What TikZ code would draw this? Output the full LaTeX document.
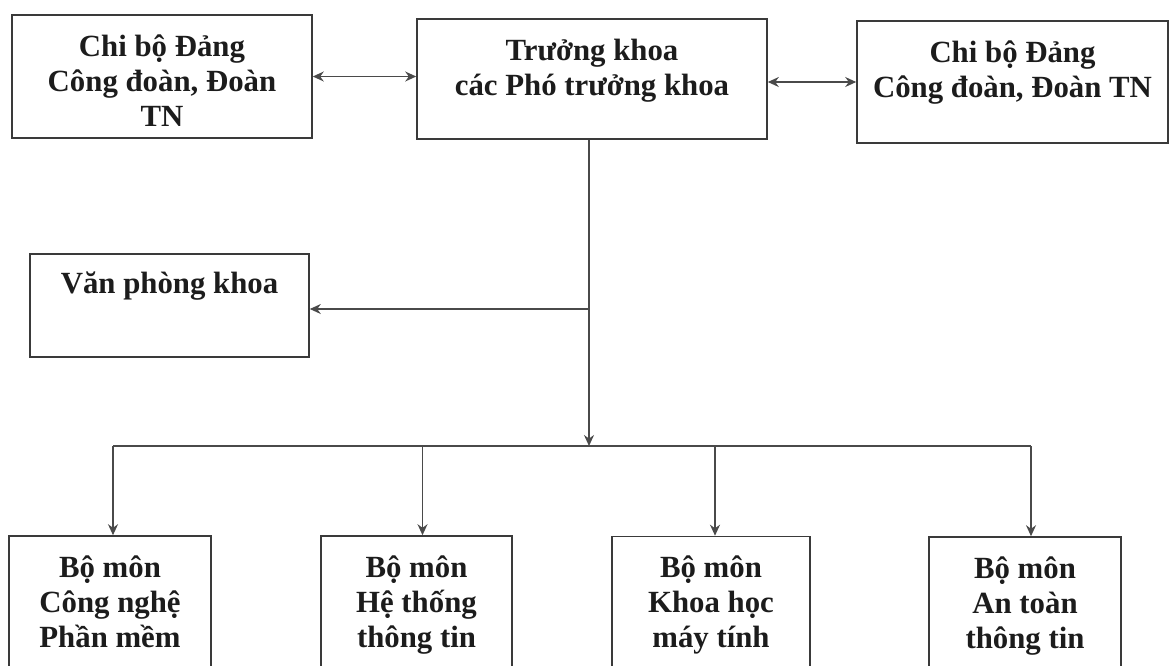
\documentclass[tikz,border=0pt]{standalone}
\usepackage{fontspec}
\setmainfont{Liberation Serif}
\usetikzlibrary{arrows.meta}
\definecolor{boxgray}{HTML}{3A3A3A}
\definecolor{linegray}{HTML}{4A4A4A}
\definecolor{ink}{HTML}{1C1C1C}
\begin{document}
\begin{tikzpicture}[x=0.5pt,y=-0.5pt,
  box/.style={draw=boxgray, line width=0.8pt, inner sep=0pt, rectangle},
  lbl/.style={anchor=north, inner sep=0pt, align=center, text=ink,
    font=\fontsize{15.4}{17.5}\selectfont\bfseries},
  link/.style={draw=linegray, line width=0.7pt},
  tip/.style={-{Stealth[length=5.5pt,width=5pt]}},
  tips/.style={{Stealth[length=5.5pt,width=5pt]}-{Stealth[length=5.5pt,width=5pt]}}]
\useasboundingbox (0,0) rectangle (1170,665);
\clip (0,0) rectangle (1170,665);
\fill[white] (0,0) rectangle (1170,665);

% top row
\node[box, minimum width=150pt, minimum height=61.5pt] (A) at (162,76.5) {};
\node[box, minimum width=175pt, minimum height=60pt] (B) at (592,79) {};
\node[box, minimum width=155.5pt, minimum height=61pt] (C) at (1012.5,82) {};
% office
\node[box, minimum width=139.5pt, minimum height=51.5pt] (V) at (169.5,305.5) {};
% departments
\node[box, minimum width=101pt, minimum height=82pt] (D1) at (110,618) {};
\node[box, minimum width=95.5pt, minimum height=82pt] (D2) at (416.5,618) {};
\node[box, minimum width=99pt, minimum height=82pt] (D3) at (711,618.5) {};
\node[box, minimum width=96pt, minimum height=82pt] (D4) at (1025,619) {};

% box texts
\node[lbl, yshift=-4.75pt] (tA) at (A.north) {\rule{0pt}{16pt}Chi bộ Đảng\\Công đoàn, Đoàn\\TN};
\node[lbl, yshift=-4.75pt] (tB) at (B.north) {\rule{0pt}{16pt}Trưởng khoa\\các Phó trưởng khoa};
\node[lbl, yshift=-4.75pt] (tC) at (C.north) {\rule{0pt}{16pt}Chi bộ Đảng\\Công đoàn, Đoàn TN};
\node[lbl, yshift=-3.75pt] (tV) at (V.north) {\rule{0pt}{16pt}Văn phòng khoa};
\node[lbl, yshift=-4.75pt] (t1) at (D1.north) {\rule{0pt}{16pt}Bộ môn\\Công nghệ\\Phần mềm};
\node[lbl, yshift=-4.75pt] (t2) at (D2.north) {\rule{0pt}{16pt}Bộ môn\\Hệ thống\\thông tin};
\node[lbl, yshift=-4.75pt] (t3) at (D3.north) {\rule{0pt}{16pt}Bộ môn\\Khoa học\\máy tính};
\node[lbl, yshift=-4.75pt] (t4) at (D4.north) {\rule{0pt}{16pt}Bộ môn\\An toàn\\thông tin};

% junction points on the trunk and the distribution bar
\coordinate (top) at ([xshift=-1.5pt]B.south);
\coordinate (bar) at (589,446);
\coordinate (jV) at (589,309);
\coordinate (b1) at ([xshift=1.5pt]D1.north);
\coordinate (b2) at ([xshift=3pt]D2.north);
\coordinate (b3) at ([xshift=2pt]D3.north);
\coordinate (b4) at ([xshift=3pt]D4.north);

% connectors
\draw[link, tips] (A.east) -- (A.east -| B.west);
\draw[link, tips] (C.west -| B.east) -- (C.west);
\draw[link] (top) -- (jV);
\draw[link, tip] (jV) -- (bar);
\draw[link, tip] (jV) -- (jV -| V.east);
\draw[link] (b1 |- bar) -- (b4 |- bar);
\draw[link, tip] (b1 |- bar) -- (b1);
\draw[link, tip] (b2 |- bar) -- (b2);
\draw[link, tip] (b3 |- bar) -- (b3);
\draw[link, tip] (b4 |- bar) -- (b4);
\end{tikzpicture}
\end{document}
